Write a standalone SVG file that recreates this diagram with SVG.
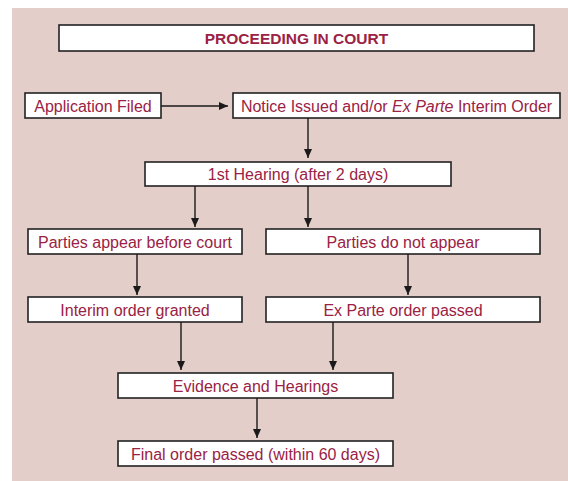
<svg xmlns="http://www.w3.org/2000/svg" width="568" height="481" viewBox="0 0 568 481">
<defs>
<marker id="ah" markerWidth="10" markerHeight="10" refX="9" refY="4" orient="auto" markerUnits="userSpaceOnUse">
<path d="M0,0 L9,4 L0,8 Z" fill="#1a1a1a"/>
</marker>
<style>
.box{fill:#fff;stroke:#222;stroke-width:1.6}
.t{font-family:"Liberation Sans",Arial,sans-serif;font-size:16px;fill:#9a2244;text-anchor:middle}
.b{font-weight:bold;font-size:15.5px}
.c{stroke:#1a1a1a;stroke-width:1.4;fill:none;marker-end:url(#ah)}
</style>
</defs>
<rect x="12" y="8" width="556" height="473" fill="#e3cec9"/>
<g id="title"><rect class="box" x="59" y="25" width="475" height="26"/><text class="t b" x="296.5" y="44">PROCEEDING IN COURT</text></g>
<g id="application"><rect class="box" x="25" y="93" width="136" height="25"/><text class="t" x="93" y="111.5">Application Filed</text></g>
<g id="notice"><rect class="box" x="233" y="93" width="327" height="25"/><text class="t" x="396.5" y="111.5">Notice Issued and/or <tspan font-style="italic">Ex Parte</tspan> Interim Order</text></g>
<g id="hearing1"><rect class="box" x="145" y="162" width="306" height="24"/><text class="t" x="298" y="180">1st Hearing (after 2 days)</text></g>
<g id="appear"><rect class="box" x="28" y="229" width="214" height="25"/><text class="t" x="135" y="247.5">Parties appear before court</text></g>
<g id="notappear"><rect class="box" x="266" y="229" width="274" height="25"/><text class="t" x="403" y="247.5">Parties do not appear</text></g>
<g id="interim"><rect class="box" x="28" y="297" width="214" height="25"/><text class="t" x="135" y="315.5">Interim order granted</text></g>
<g id="exparte"><rect class="box" x="266" y="297" width="274" height="25"/><text class="t" x="403" y="315.5">Ex Parte order passed</text></g>
<g id="evidence"><rect class="box" x="118" y="373" width="275" height="25"/><text class="t" x="255.5" y="391.5">Evidence and Hearings</text></g>
<g id="final"><rect class="box" x="118" y="441" width="275" height="25"/><text class="t" x="255.5" y="459.5">Final order passed (within 60 days)</text></g>
<g id="connectors">
<line class="c" x1="161" y1="106" x2="228" y2="106"/>
<line class="c" x1="308" y1="118" x2="308" y2="158"/>
<line class="c" x1="195" y1="186" x2="195" y2="227"/>
<line class="c" x1="308" y1="186" x2="308" y2="227"/>
<line class="c" x1="137" y1="254" x2="137" y2="295"/>
<line class="c" x1="408" y1="254" x2="408" y2="295"/>
<line class="c" x1="181" y1="322" x2="181" y2="370"/>
<line class="c" x1="333" y1="322" x2="333" y2="370"/>
<line class="c" x1="257" y1="398" x2="257" y2="438"/>
</g>
</svg>
